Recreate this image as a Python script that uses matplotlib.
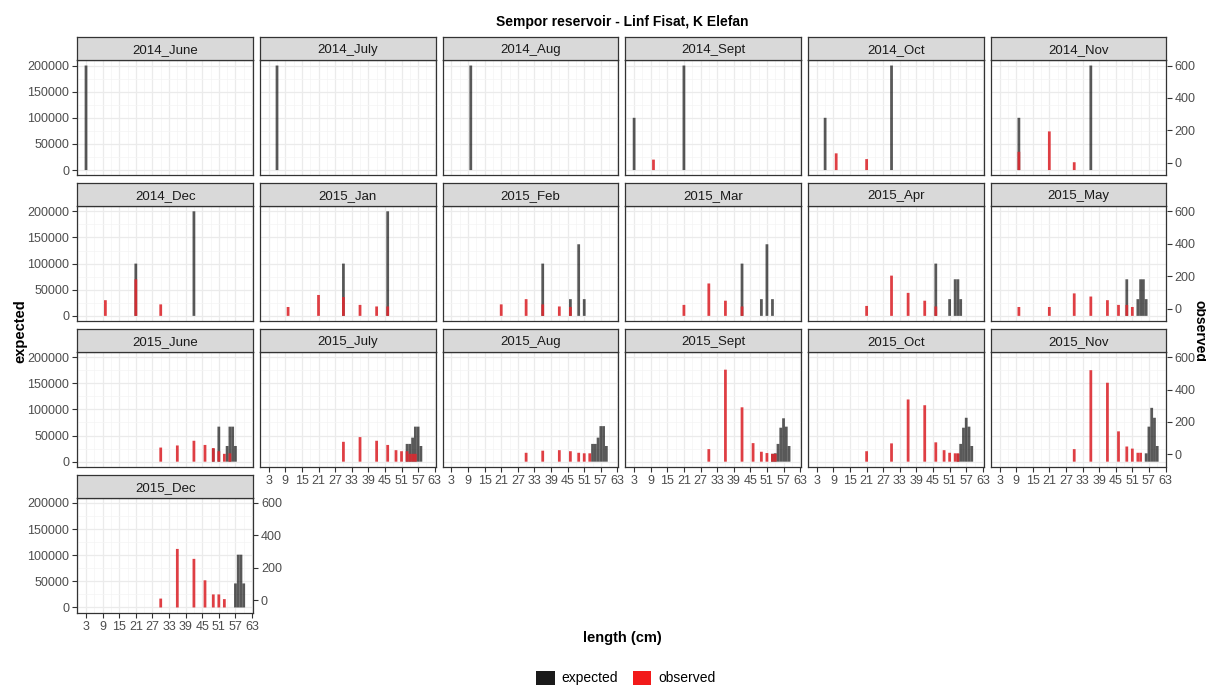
import numpy as np
import matplotlib
matplotlib.use('Agg')
import matplotlib.pyplot as plt
from matplotlib.patches import Patch

plt.rcParams['font.family'] = ['Liberation Sans', 'DejaVu Sans']

# panel names (facets)
months = ['2014_June', '2014_July', '2014_Aug', '2014_Sept', '2014_Oct', '2014_Nov',
          '2014_Dec', '2015_Jan', '2015_Feb', '2015_Mar', '2015_Apr', '2015_May',
          '2015_June', '2015_July', '2015_Aug', '2015_Sept', '2015_Oct', '2015_Nov',
          '2015_Dec']

# expected frequencies per length class (cm)
exp_len = [[3], [6], [10], [3, 21], [6, 30], [10, 36],
           [21, 42], [30, 46], [36, 46, 49, 51], [42, 49, 51, 53],
           [46, 51, 53, 54, 55], [49, 53, 54, 55, 56],
           [49, 51, 54, 55, 56, 57], [53, 54, 55, 56, 57, 58],
           [54, 55, 56, 57, 58, 59], [53, 54, 55, 56, 57, 58, 59],
           [54, 55, 56, 57, 58, 59], [56, 57, 58, 59, 60],
           [57, 58, 59, 60]]
exp_val = [[200000], [200000], [200000], [100000, 200000], [100000, 200000],
           [100000, 200000], [100000, 200000], [100000, 200000],
           [100000, 32000, 137000, 32000], [100000, 32000, 137000, 32000],
           [100000, 32000, 70000, 70000, 32000], [70000, 32000, 70000, 70000, 32000],
           [25000, 67000, 30000, 67000, 67000, 30000],
           [34000, 34000, 46000, 67000, 67000, 30000],
           [34000, 34000, 46000, 68000, 68000, 30000],
           [15000, 16000, 34000, 65000, 83000, 67000, 30000],
           [15000, 34000, 65000, 84000, 67000, 30000],
           [16000, 67000, 103000, 84000, 30000],
           [46000, 101000, 101000, 46000]]

# observed frequencies (drawn on the expected scale)
obs_len = [[], [], [], [10], [10, 21], [10, 21, 30],
           [10, 21, 30], [10, 21, 30, 36, 42, 46], [21, 30, 36, 42, 46],
           [21, 30, 36, 42], [21, 30, 36, 42, 46],
           [10, 21, 30, 36, 42, 46, 49, 51],
           [30, 36, 42, 46, 49, 51, 53, 55],
           [30, 36, 42, 46, 49, 51, 53, 54, 55, 56],
           [30, 36, 42, 46, 49, 51, 53],
           [30, 36, 42, 46, 49, 51, 53, 54],
           [21, 30, 36, 42, 46, 49, 51, 53, 54],
           [30, 36, 42, 46, 49, 51, 53, 54],
           [30, 36, 42, 46, 49, 51, 53]]
obs_val = [[], [], [], [20000], [32000, 21000], [35000, 74000, 15000],
           [30000, 70000, 22000], [17000, 40000, 36000, 21000, 18000, 18000],
           [22000, 32000, 22000, 18000, 17000], [21000, 62000, 29000, 18000],
           [19000, 77000, 44000, 29000, 18000],
           [17000, 17000, 43000, 37000, 30000, 21000, 21000, 17000],
           [27000, 31000, 40000, 32000, 26000, 20000, 15000, 16000],
           [38000, 47000, 40000, 32000, 22000, 20000, 20000, 15000, 15000, 15000],
           [17000, 21000, 22000, 20000, 17000, 16000, 16000],
           [24000, 176000, 104000, 35500, 19000, 16500, 15000, 15000],
           [20000, 35000, 119000, 108000, 37000, 22000, 17000, 16000, 16000],
           [24000, 175000, 151000, 58000, 29000, 25000, 17000, 17000],
           [17000, 112000, 93000, 52000, 25000, 25000, 16000]]

x_breaks = np.arange(3, 64, 6)
y_breaks = [0, 50000, 100000, 150000, 200000]
obs_breaks = [0, 200, 400, 600]

W, H = 1206, 686
fig = plt.figure(figsize=(W / 100, H / 100), dpi=100)


def box(x, y, w, h):
    return [x / W, 1 - (y + h) / H, w / W, h / H]


def to_obs(v):
    return (v - 14000) / 310.0


def from_obs(v):
    return v * 310.0 + 14000


ncol = 6
pw, ph, sh = 175.7, 115.0, 23.0
tick_kw = dict(length=3.7, width=0.8, color='#333333', labelcolor='#4d4d4d',
               labelsize=9, pad=2)

for i, name in enumerate(months):
    r, c = divmod(i, ncol)
    left = 77.3 + c * 182.7
    top = 60.3 + r * 145.8
    ax = fig.add_axes(box(left, top, pw, ph))
    bars = ax.bar(exp_len[i], exp_val[i], width=1.0, color='black', alpha=0.65,
                  linewidth=0, zorder=2)
    for b in bars:
        b.set_snap(False)
    if obs_len[i]:
        bars = ax.bar(obs_len[i], obs_val[i], width=1.0, color='#dc2a30',
                      alpha=0.9, linewidth=0, zorder=3)
        for b in bars:
            b.set_snap(False)
    ax.set_xlim(-0.15, 63.35)
    ax.set_ylim(-10000, 210000)
    ax.set_xticks(x_breaks)
    ax.set_xticks(np.arange(0, 64, 6), minor=True)
    ax.set_yticks(y_breaks)
    ax.set_yticks(np.arange(25000, 200000, 50000), minor=True)
    ax.grid(True, which='major', color='#ebebeb', lw=0.9, zorder=0)
    ax.grid(True, which='minor', color='#f4f4f4', lw=0.5, zorder=0)
    ax.set_axisbelow(True)
    for s in ax.spines.values():
        s.set_color('#333333')
        s.set_linewidth(0.9)
    ax.tick_params(which='minor', length=0)
    ax.tick_params(which='major', **tick_kw)

    show_left = c == 0
    show_bottom = (r == 2 and c > 0) or r == 3
    show_right = c == ncol - 1 or i == len(months) - 1
    if not show_left:
        ax.tick_params(axis='y', length=0, labelleft=False)
    else:
        ax.set_yticklabels([str(v) for v in y_breaks])
    if not show_bottom:
        ax.tick_params(axis='x', length=0, labelbottom=False)
    if show_right:
        sec = ax.secondary_yaxis('right', functions=(to_obs, from_obs))
        sec.set_yticks(obs_breaks)
        sec.tick_params(**tick_kw)
        sec.spines['right'].set_visible(False)

    sax = fig.add_axes(box(left, top - sh, pw, sh))
    sax.set_facecolor('#d9d9d9')
    sax.set_xticks([])
    sax.set_yticks([])
    for s in sax.spines.values():
        s.set_color('#333333')
        s.set_linewidth(0.9)
    sax.text(0.5, 0.5, name, ha='center', va='center_baseline', fontsize=9.5,
             color='#1a1a1a', transform=sax.transAxes)

fig.text(622 / W, 1 - 22 / H, 'Sempor reservoir - Linf Fisat, K Elefan',
         ha='center', va='center', fontsize=10, fontweight='bold')
fig.text(20 / W, 1 - 331 / H, 'expected', rotation=90, ha='center', va='center',
         fontsize=10.5, fontweight='bold')
fig.text(1200 / W, 1 - 331 / H, 'observed', rotation=-90, ha='center',
         va='center', fontsize=10, fontweight='bold')
fig.text(622 / W, 1 - 638 / H, 'length (cm)', ha='center', va='center',
         fontsize=10.5, fontweight='bold')

handles = [Patch(facecolor='#1a1a1a', edgecolor='none'),
           Patch(facecolor='#f21a1a', edgecolor='none')]
fig.legend(handles, ['expected', 'observed'], loc='center',
           bbox_to_anchor=(626 / W, 1 - 678 / H), ncol=2, frameon=False,
           fontsize=10, handlelength=1.3, handleheight=1.2, handletextpad=0.5,
           columnspacing=1.1)

fig.savefig('out.png', dpi=100)
